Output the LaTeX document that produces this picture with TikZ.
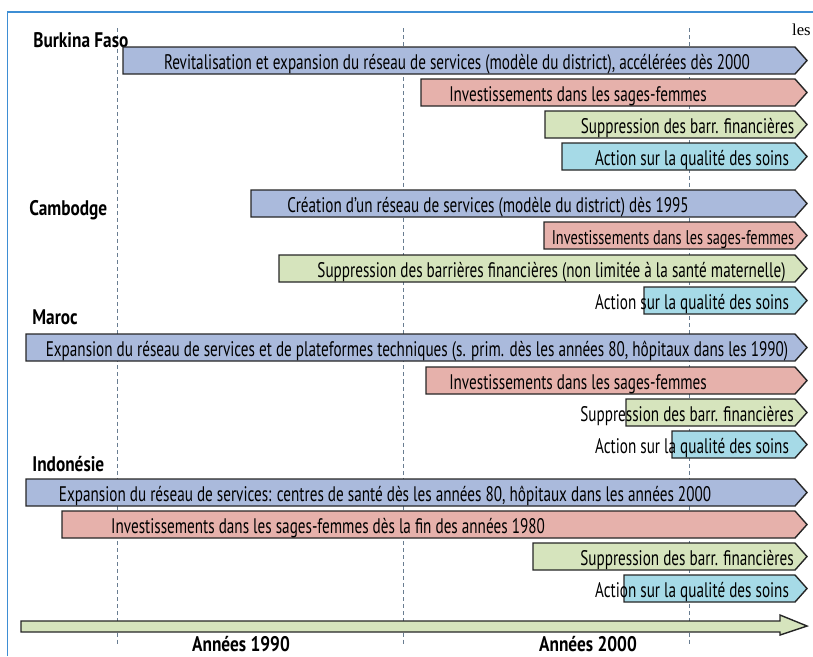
\documentclass[tikz,border=0pt]{standalone}
\usepackage{fontspec}
\setmainfont{PT Sans}[FakeStretch=0.72, BoldFeatures={FakeStretch=0.82}]
\newfontfamily\lesfont{Liberation Serif}
\definecolor{frameblue}{RGB}{62,142,212}
\definecolor{gridgray}{RGB}{105,125,145}
\definecolor{phaseblue}{RGB}{170,186,220}
\definecolor{phasered}{RGB}{230,177,171}
\definecolor{phasegreen}{RGB}{214,228,189}
\definecolor{phasecyan}{RGB}{166,218,231}
\tikzset{
  phase/.style={draw=black!85, line width=0.8pt, line join=miter},
  barlabel/.style={anchor=base, inner sep=0pt, font=\fontsize{12}{14}\selectfont},
  country/.style={anchor=base west, inner sep=0pt, font=\bfseries\fontsize{12}{14}\selectfont},
  decade/.style={anchor=base, inner sep=0pt, font=\bfseries\fontsize{12}{14}\selectfont},
  decadeline/.style={gridgray, line width=0.5pt, dash pattern=on 2.3pt off 1.7pt}
}
\newcommand{\phasebar}[3]{%
  \draw[phase, fill=#3] (#1,#2) -- (15.9,#2) -- (16.14,#2-0.27) -- (15.9,#2-0.54)
  -- (#1,#2-0.54) -- cycle;}

\begin{document}
\begin{tikzpicture}
    \useasboundingbox (0,0) rectangle (16.26,-13.12);
    \draw[frameblue, line width=0.6pt] (0.15,-13.12) -- (0.15,-0.24) -- (16.26,-0.24);
    \node[anchor=base east, inner sep=0pt, font=\lesfont\fontsize{9.5}{11}\selectfont] (les) at (16.22,-0.7) {les};
    % decades
    \draw[decadeline] (2.34,-0.56) -- (2.34,-12.9);
    \draw[decadeline] (8.06,-0.56) -- (8.06,-12.9);
    \draw[decadeline] (13.78,-0.56) -- (13.78,-12.9);
    % Burkina Faso
    \node[country] (bf) at (0.66,-0.94) {Burkina Faso};
    \phasebar{2.46}{-0.94}{phaseblue}
    \phasebar{8.42}{-1.58}{phasered}
    \phasebar{10.9}{-2.22}{phasegreen}
    \phasebar{11.24}{-2.86}{phasecyan}
    \node[barlabel] (bf1) at (9.14,-1.38) {Revitalisation et expansion du réseau de services (modèle du district), accélérées dès 2000};
    \node[barlabel] (bf2) at (11.56,-2.02) {Investissements dans les sages-femmes};
    \node[barlabel] (bf3) at (13.75,-2.66) {Suppression des barr. financières};
    \node[barlabel] (bf4) at (13.84,-3.3) {Action sur la qualité des soins};
    % Cambodge
    \node[country] (kh) at (0.58,-4.3) {Cambodge};
    \phasebar{5.02}{-3.8}{phaseblue}
    \phasebar{10.88}{-4.44}{phasered}
    \phasebar{5.58}{-5.1}{phasegreen}
    \phasebar{12.88}{-5.74}{phasecyan}
    \node[barlabel] (kh1) at (9.76,-4.24) {Création d’un réseau de services (modèle du district) dès 1995};
    \node[barlabel, font=\fontsize{11.3}{13}\selectfont] (kh2) at (13.46,-4.88) {Investissements dans les sages-femmes};
    \node[barlabel] (kh3) at (11.03,-5.54) {Suppression des barrières financières (non limitée à la santé maternelle)};
    \node[barlabel] (kh4) at (13.84,-6.18) {Action sur la qualité des soins};
    % Maroc
    \node[country] (ma) at (0.64,-6.48) {Maroc};
    \phasebar{0.52}{-6.68}{phaseblue}
    \phasebar{8.52}{-7.34}{phasered}
    \phasebar{12.52}{-7.98}{phasegreen}
    \phasebar{13.44}{-8.62}{phasecyan}
    \node[barlabel] (ma1) at (8.34,-7.12) {Expansion du réseau de services et de plateformes techniques (s. prim. dès les années 80, hôpitaux dans les 1990)};
    \node[barlabel] (ma2) at (11.56,-7.78) {Investissements dans les sages-femmes};
    \node[barlabel] (ma3) at (13.74,-8.42) {Suppression des barr. financières};
    \node[barlabel] (ma4) at (13.84,-9.06) {Action sur la qualité des soins};
    % Indonesie
    \node[country] (id) at (0.64,-9.42) {Indonésie};
    \phasebar{0.52}{-9.58}{phaseblue}
    \phasebar{1.24}{-10.22}{phasered}
    \phasebar{10.66}{-10.86}{phasegreen}
    \phasebar{12.48}{-11.5}{phasecyan}
    \node[barlabel] (id1) at (7.7,-10.02) {Expansion du réseau de services: centres de santé dès les années 80, hôpitaux dans les années 2000};
    \node[barlabel] (id2) at (6.56,-10.66) {Investissements dans les sages-femmes dès la fin des années 1980};
    \node[barlabel] (id3) at (13.74,-11.3) {Suppression des barr. financières};
    \node[barlabel] (id4) at (13.84,-11.94) {Action sur la qualité des soins};
    % time axis
    \draw[phase, fill=phasegreen] (0.42,-12.42) -- (15.6,-12.42) -- (15.6,-12.3) -- (16.14,-12.52)
    -- (15.6,-12.7) -- (15.6,-12.64) -- (0.42,-12.64) -- cycle;
    \node[decade] (y90) at (4.82,-13.02) {Années 1990};
    \node[decade] (y00) at (11.76,-13.02) {Années 2000};
\end{tikzpicture}
\end{document}
